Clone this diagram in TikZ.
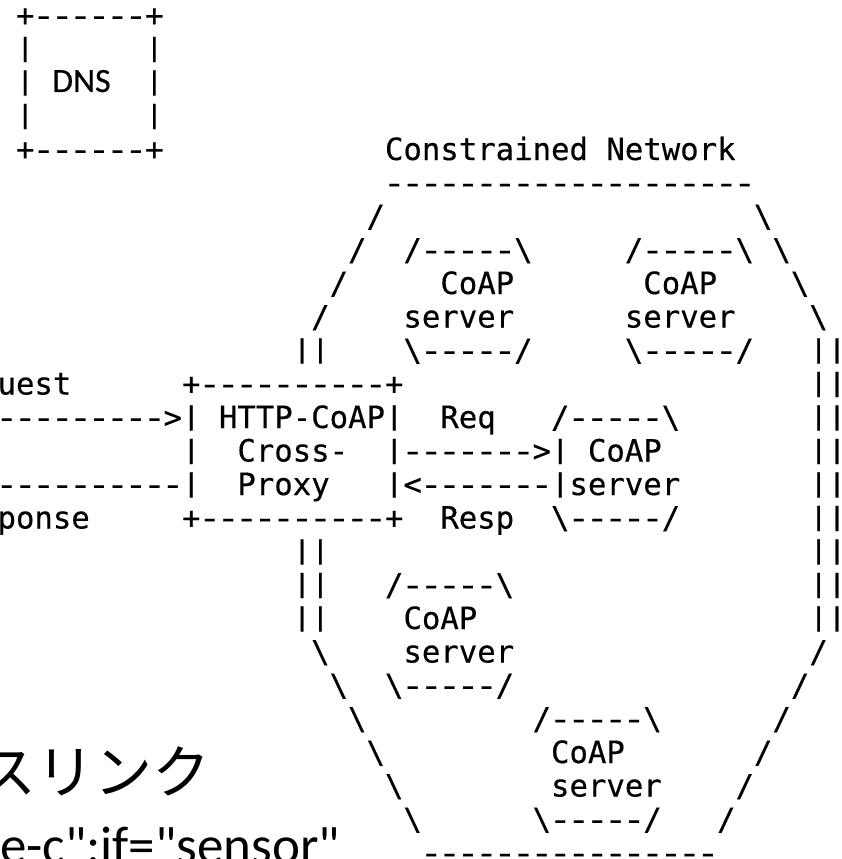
\documentclass[tikz,border=0pt]{standalone}
\usepackage{fontspec}
\usepackage{graphicx}
\newfontfamily\mono{DejaVu Sans Mono}[FakeBold=0.4]
\newfontfamily\carl{Carlito}
\newfontfamily\carlb{Carlito}[FakeBold=0.5]
\newfontfamily\jp{Noto Sans CJK JP}

% one character cell of the ASCII figure: 18.45 wide, 33.5 high
\newcommand\cell[4]{\node[mono] (#1) at ({15.8+18.45*(#3)},{26+33.5*(#2)}) {#4};}
\newcommand\bs{\textbackslash}
% a slightly longer dash and a shorter bar, each one cell wide
\newcommand\hy{\makebox[18.45pt][c]{\scalebox{1.25}[1]{-}}}
\newcommand\vb{\makebox[18.45pt][c]{\raisebox{3.3pt}{\scalebox{1}[0.82]{|}}}}
\newcommand\dashes[1]{\foreach \k in {1,...,#1}{\hy}}

\begin{document}
\begin{tikzpicture}[x=1pt,y=-1pt,
  mono/.style={anchor=base west, inner sep=0pt, font=\mono\fontsize{30.65}{33.5}\selectfont, text=black}]
\useasboundingbox (0,0) rectangle (842,859);
\fill[white] (0,0) rectangle (842,859);
\begin{scope}
\clip (0,0) rectangle (842,859);

% DNS box
\cell{dnsTop}{0}{0}{+\dashes{6}+}
\cell{dnsLa}{1}{0}{\vb}  \cell{dnsRa}{1}{7}{\vb}
\cell{dnsLb}{2}{0}{\vb}  \cell{dnsRb}{2}{7}{\vb}
\cell{dnsLc}{3}{0}{\vb}  \cell{dnsRc}{3}{7}{\vb}
\cell{dnsBot}{4}{0}{+\dashes{6}+}
\node[anchor=base west, inner sep=0pt, font=\carlb\fontsize{34}{34}\selectfont] (dns) at (52,92) {DNS};

% constrained network outline, upper part
\cell{cnTitle}{4}{20}{Constrained Network}
\cell{cnTop}{5}{20}{\dashes{20}}
\cell{lA}{6}{19}{/}   \cell{rA}{6}{40}{\bs}
\cell{lB}{7}{18}{/}   \cell{rB}{7}{41}{\bs}
\cell{lC}{8}{17}{/}   \cell{rC}{8}{42}{\bs}
\cell{lD}{9}{16}{/}   \cell{rD}{9}{43}{\bs}
\cell{lE}{10}{15}{\vb\vb} \cell{rE}{10}{43}{\vb\vb}

% two servers at the top
\cell{s1top}{7}{21}{/\dashes{5}\bs}  \cell{s2top}{7}{33}{/\dashes{5}\bs}
\cell{s1a}{8}{23}{CoAP}              \cell{s2a}{8}{34}{CoAP}
\cell{s1b}{9}{21}{server}            \cell{s2b}{9}{33}{server}
\cell{s1bot}{10}{21}{\bs\dashes{5}/} \cell{s2bot}{10}{33}{\bs\dashes{5}/}

% cross-proxy with request / response
\cell{req}{11}{-1}{uest}
\cell{pxTop}{11}{9}{+\dashes{10}+}
\cell{rF}{11}{43}{\vb\vb}
\cell{reqArrow}{12}{-1}{\dashes{9}>}
\cell{pxLa}{12}{9}{\vb}
\cell{pxName}{12}{11}{HTTP-CoAP}
\cell{pxRa}{12}{20}{\vb}
\cell{reqLbl}{12}{23}{Req}
\cell{s3top}{12}{29}{/\dashes{5}\bs}
\cell{rG}{12}{43}{\vb\vb}
\cell{pxLb}{13}{9}{\vb}
\cell{pxCross}{13}{12}{Cross-}
\cell{coapReq}{13}{20}{\vb\dashes{7}>\vb}
\cell{s3a}{13}{31}{CoAP}
\cell{rH}{13}{43}{\vb\vb}
\cell{respArrow}{14}{-1}{\dashes{10}\vb}
\cell{pxProxy}{14}{12}{Proxy}
\cell{coapResp}{14}{20}{\vb<\dashes{7}\vb}
\cell{s3b}{14}{30}{server}
\cell{rI}{14}{43}{\vb\vb}
\cell{resp}{15}{-1}{ponse}
\cell{pxBot}{15}{9}{+\dashes{10}+}
\cell{respLbl}{15}{23}{Resp}
\cell{s3bot}{15}{29}{\bs\dashes{5}/}
\cell{rJ}{15}{43}{\vb\vb}

% lower part of the outline
\cell{lF}{16}{15}{\vb\vb} \cell{rK}{16}{43}{\vb\vb}
\cell{lG}{17}{15}{\vb\vb} \cell{rL}{17}{43}{\vb\vb}
\cell{lH}{18}{15}{\vb\vb} \cell{rM}{18}{43}{\vb\vb}
\cell{lI}{19}{16}{\bs} \cell{rN}{19}{43}{/}
\cell{lJ}{20}{17}{\bs} \cell{rO}{20}{42}{/}
\cell{lK}{21}{18}{\bs} \cell{rP}{21}{41}{/}
\cell{lL}{22}{19}{\bs} \cell{rQ}{22}{40}{/}
\cell{lM}{23}{20}{\bs} \cell{rR}{23}{39}{/}
\cell{lN}{24}{21}{\bs} \cell{rS}{24}{38}{/}
\cell{cnBot}{25}{22}{\dashes{16}}

% two servers at the bottom
\cell{s4top}{17}{20}{/\dashes{5}\bs}
\cell{s4a}{18}{21}{CoAP}
\cell{s4b}{19}{21}{server}
\cell{s4bot}{20}{20}{\bs\dashes{5}/}
\cell{s5top}{21}{28}{/\dashes{5}\bs}
\cell{s5a}{22}{29}{CoAP}
\cell{s5b}{23}{29}{server}
\cell{s5bot}{24}{28}{\bs\dashes{5}/}

% page text around the figure
\node[anchor=base east, inner sep=0pt, font=\jp\fontsize{58}{58}\selectfont] (jpText) at (211,793) {スリンク};
\node[anchor=base east, inner sep=0pt, font=\carl\fontsize{53}{53}\selectfont] (attrText) at (340,863) {e-c";if="sensor"};
\end{scope}
\end{tikzpicture}
\end{document}
